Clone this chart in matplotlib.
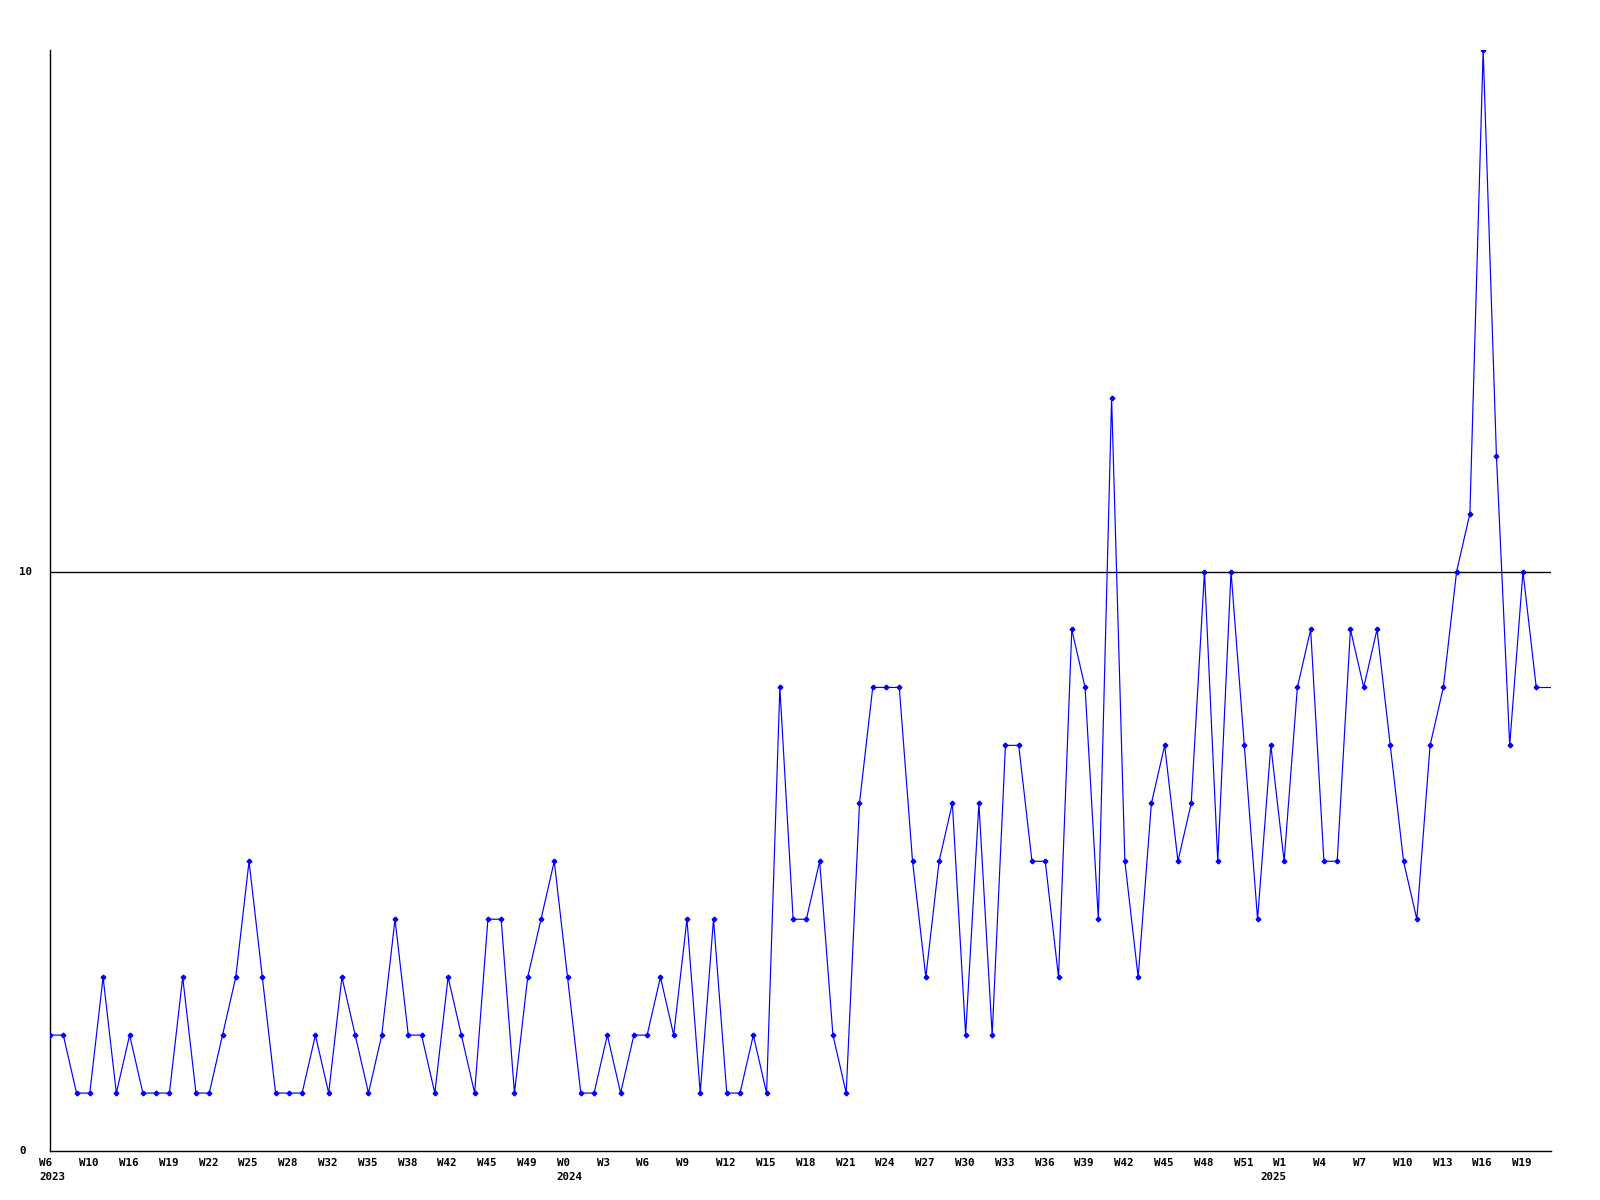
import matplotlib
matplotlib.use('Agg')
import matplotlib.pyplot as plt
import matplotlib.transforms as mtransforms

# weekly counts, W6 2023 .. W20 2025
counts = [2, 2, 1, 1, 3, 1, 2, 1, 1, 1, 3, 1, 1, 2, 3, 5, 3, 1, 1, 1,
          2, 1, 3, 2, 1, 2, 4, 2, 2, 1, 3, 2, 1, 4, 4, 1, 3, 4, 5, 3,
          1, 1, 2, 1, 2, 2, 3, 2, 4, 1, 4, 1, 1, 2, 1, 8, 4, 4, 5, 2,
          1, 6, 8, 8, 8, 5, 3, 5, 6, 2, 6, 2, 7, 7, 5, 5, 3, 9, 8, 4,
          13, 5, 3, 6, 7, 5, 6, 10, 5, 10, 7, 4, 7, 5, 8, 9, 5, 5, 9, 8,
          9, 7, 5, 4, 7, 8, 10, 11, 19, 12, 7, 10, 8]

week_labels = ['W6', 'W10', 'W16', 'W19', 'W22', 'W25', 'W28', 'W32', 'W35',
               'W38', 'W42', 'W45', 'W49', 'W0', 'W3', 'W6', 'W9', 'W12',
               'W15', 'W18', 'W21', 'W24', 'W27', 'W30', 'W33', 'W36', 'W39',
               'W42', 'W45', 'W48', 'W51', 'W1', 'W4', 'W7', 'W10', 'W13',
               'W16', 'W19']
years = ['2023', '2024', '2025']
year_pos = [0, 39, 92]

x = list(range(len(counts)))

fig = plt.figure(figsize=(16, 12), dpi=100)
ax = fig.add_axes([50 / 1600, 1 - 1151 / 1200, 1501 / 1600, 1101 / 1200])

ax.plot(x, counts, color='#0000ff', lw=0.85, marker='P', ms=3.0,
        mec='#0000ff', mfc='#0000ff', zorder=3)
xmax = (1551 - 50) / 13.27
ax.plot([x[-1], xmax + 1], [counts[-1], counts[-1]], color='#0000ff', lw=0.85, zorder=3)

ax.set_xlim(0, xmax)
ax.set_ylim(0, 19)
ax.axhline(10, color='black', lw=1.0, zorder=2)

for s in ['top', 'right']:
    ax.spines[s].set_visible(False)
for s in ['left', 'bottom']:
    ax.spines[s].set_linewidth(1.0)
ax.set_xticks([])
ax.set_yticks([])

font = dict(family='DejaVu Sans Mono', weight='bold', fontsize=7.8, color='black')

# x labels, one every 3 weeks
off_w = mtransforms.ScaledTranslation(-10.7 / 100, -7.5 / 100, fig.dpi_scale_trans)
off_y = mtransforms.ScaledTranslation(-10.7 / 100, -21.5 / 100, fig.dpi_scale_trans)
tr = ax.get_xaxis_transform()
for i, lab in enumerate(week_labels):
    ax.text(i * 3, 0, lab, transform=tr + off_w, ha='left', va='top', **font)
for p, yr in zip(year_pos, years):
    ax.text(p, 0, yr, transform=tr + off_y, ha='left', va='top', **font)

# y labels
ylab_tr = mtransforms.blended_transform_factory(fig.transFigure, ax.transData)
for v in [0, 10]:
    ax.text(19 / 1600, v, str(v), transform=ylab_tr, ha='left', va='center', **font)

fig.savefig('out.png', dpi=100)
